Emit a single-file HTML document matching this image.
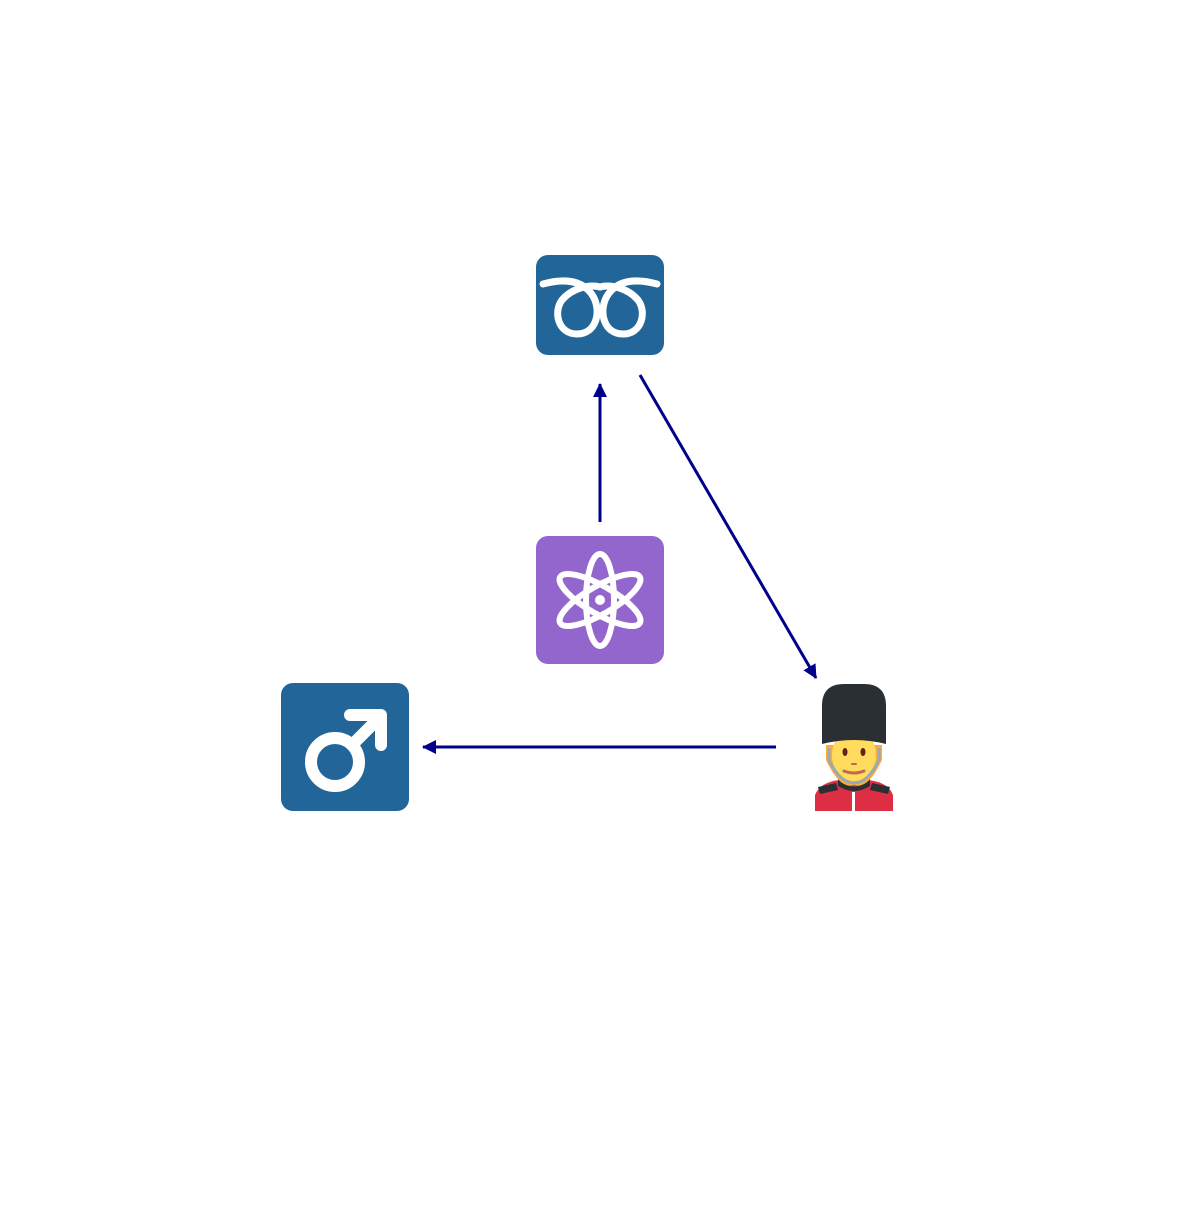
<!DOCTYPE html>
<html><head><meta charset="utf-8"><style>html,body{margin:0;padding:0;background:#fff}</style></head>
<body>
<svg width="1200" height="1200" viewBox="0 0 1200 1200" xmlns="http://www.w3.org/2000/svg">
<defs>
<marker id="ah" markerWidth="14" markerHeight="14" refX="13" refY="7" orient="auto" markerUnits="userSpaceOnUse">
<path d="M0,0 L14,7 L0,14 z" fill="#00008b"/>
</marker>
</defs>
<line x1="600" y1="522" x2="600" y2="384" stroke="#00008b" stroke-width="3" marker-end="url(#ah)"/>
<line x1="640" y1="375" x2="816" y2="678" stroke="#00008b" stroke-width="3" marker-end="url(#ah)"/>
<line x1="776" y1="747" x2="423" y2="747" stroke="#00008b" stroke-width="3" marker-end="url(#ah)"/>

<rect x="536" y="255" width="128" height="100" rx="12" fill="#226699"/>
<g fill="none" stroke="#fff" stroke-width="7" stroke-linecap="round" stroke-linejoin="round">
<path d="M543,284 C565,278 583,280 593,296 C602,312 596,334 577,334 C558,334 553,312 562,300 C572,288 590,284 600,287"/>
<path d="M657,284 C635,278 617,280 607,296 C598,312 604,334 623,334 C642,334 647,312 638,300 C628,288 610,284 600,287"/>
</g>

<rect x="536" y="536" width="128" height="128" rx="12" fill="#9266cc"/>
<g fill="none" stroke="#fff" stroke-width="6">
<ellipse cx="600" cy="600" rx="14" ry="46"/>
<ellipse cx="600" cy="600" rx="14" ry="46" transform="rotate(60 600 600)"/>
<ellipse cx="600" cy="600" rx="14" ry="46" transform="rotate(-60 600 600)"/>
</g>
<circle cx="600" cy="600" r="5" fill="#fff"/>

<rect x="281" y="683" width="128" height="128" rx="12" fill="#226699"/>
<g fill="none" stroke="#fff" stroke-width="12" stroke-linecap="round" stroke-linejoin="round">
<circle cx="335" cy="762" r="24"/>
<line x1="352" y1="745" x2="380" y2="717"/>
<polyline points="350,715 381,715 381,745"/>
</g>

<g>
<path d="M815,811 L815,795 Q820,782 840,780 L868,780 Q888,782 893,795 L893,811 z" fill="#dd2e44"/>
<rect x="852" y="792" width="3" height="19" fill="#fff"/>
<path d="M818,787 L836,783 L838,790 L820,794 z" fill="#292f33"/>
<path d="M890,787 L872,783 L870,790 L888,794 z" fill="#292f33"/>
<path d="M838,778 Q854,795 870,778 L870,786 Q854,796 838,786 z" fill="#292f33"/>
<path d="M826,745 L826,760 Q840,790 854,785 Q868,790 882,760 L882,745 z" fill="#ffac33"/>
<ellipse cx="854" cy="755" rx="22" ry="26" fill="#ffdc5d"/>
<path d="M829,748 L829,760 Q840,783 854,783 Q868,783 879,760 L879,748" fill="none" stroke="#99aab5" stroke-width="3"/>
<ellipse cx="845" cy="752" rx="2.5" ry="4" fill="#662113"/>
<ellipse cx="863" cy="752" rx="2.5" ry="4" fill="#662113"/>
<rect x="851" y="763" width="6" height="2" rx="1" fill="#c1694f"/>
<path d="M844,771 Q854,775 864,771" stroke="#c1694f" stroke-width="3" fill="none" stroke-linecap="round"/>
<path d="M822,744 L822,706 Q822,684 844,684 L864,684 Q886,684 886,706 L886,744 Q870,740 854,740 Q838,740 822,744 z" fill="#292f33"/>
</g>
</svg>
</body></html>
